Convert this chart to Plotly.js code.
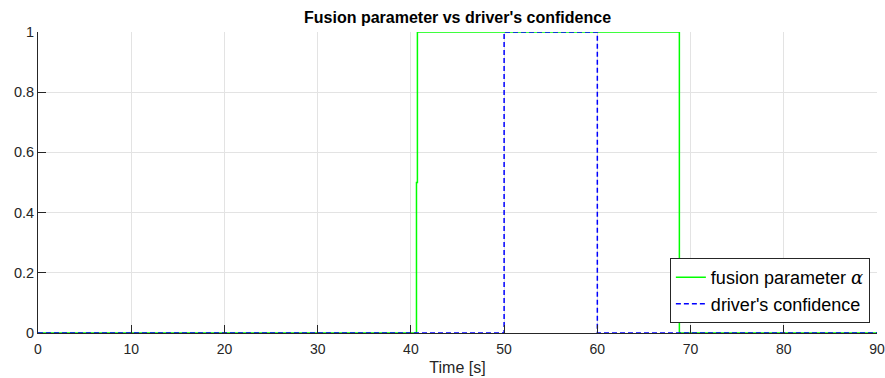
<!DOCTYPE html>
<html><head><meta charset="utf-8">
<script src="https://cdn.plot.ly/plotly-3.0.1.min.js"></script>
<style>body{margin:0;background:#fff}#c{width:885px;height:378px}</style>
</head><body><div id="c"></div>
<script>
const alphaTime = [0, 40.6, 40.7, 68.8, 90];
const alphaValue = [0, 0.5, 1, 0, 0];
const confTime = [0, 50, 60, 90];
const confValue = [0, 1, 0, 0];
const xTicks = [0, 10, 20, 30, 40, 50, 60, 70, 80, 90];
const yTicks = [0, 0.2, 0.4, 0.6, 0.8, 1];
const yTickText = ['0', '0.2', '0.4', '0.6', '0.8', '1'];

const traces = [
  {x: alphaTime, y: alphaValue, mode: 'lines', line: {shape: 'hv', color: '#00ff00', width: 1.5},
   name: 'fusion parameter <i style="font-family:\'DejaVu Serif\',serif">α</i>'},
  {x: confTime, y: confValue, mode: 'lines', line: {shape: 'hv', color: '#0000ff', width: 1.5, dash: '5px,3px'},
   name: "driver's confidence"}
];
const font = {family: 'Liberation Sans, Arial, sans-serif', color: '#262626', size: 14};
const layout = {
  width: 885, height: 378,
  margin: {l: 38, r: 8, t: 32, b: 45},
  paper_bgcolor: '#fff', plot_bgcolor: '#fff',
  font: font,
  showlegend: true,
  title: {text: "<b>Fusion parameter vs driver's confidence</b>", x: 0.517, xanchor: 'center', y: 0.955, yanchor: 'middle',
          font: {family: 'Liberation Sans, Arial, sans-serif', size: 16, color: '#000'}},
  xaxis: {range: [0, 90], tickvals: xTicks, ticktext: xTicks.map(String), showgrid: true, gridcolor: '#e3e3e3',
          zeroline: false, showline: true, linecolor: '#262626', linewidth: 1, ticks: 'inside', ticklen: 8,
          tickcolor: '#262626', tickfont: {size: 14, color: '#262626'}, ticklabelstandoff: 3,
          title: {text: 'Time [s]', font: {size: 16, color: '#262626'}, standoff: 6}},
  yaxis: {range: [0, 1], tickvals: yTicks, ticktext: yTickText, showgrid: true, gridcolor: '#e3e3e3',
          zeroline: false, showline: true, linecolor: '#262626', linewidth: 1, ticks: 'inside', ticklen: 8,
          tickcolor: '#262626', tickfont: {size: 14.5, color: '#262626'}},
  legend: {x: 0.9915, xanchor: 'right', y: 0.033, yanchor: 'bottom', bgcolor: '#fff', bordercolor: '#262626', borderwidth: 1,
           font: {size: 18, color: '#000'}, tracegroupgap: 0, itemwidth: 30}
};
Plotly.newPlot('c', traces, layout, {displayModeBar: false, staticPlot: true});
</script></body></html>
